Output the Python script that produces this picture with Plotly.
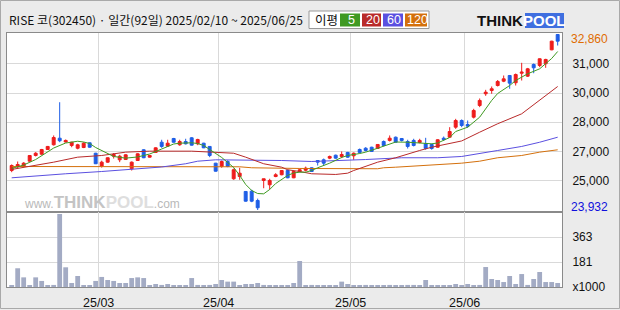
import plotly.graph_objects as go

# ---------------- data ----------------
title_text = "RISE 코(302450) · 일간(92일) 2025/02/10 ~ 2025/06/25"

open_ = [25940, 26130, 26160, 26415, 26705, 26770, 27010, 27250, 27585, 27390,
         27215, 27075, 27110, 27350, 26820, 26160, 26365, 26670, 26485, 26500,
         26030, 26450, 26995, 26620, 26860, 27380, 27180, 27570, 27250, 27415,
         27605, 27300, 27330, 27165, 26315, 26145, 26400, 25520, 25635, 24875,
         24890, 24415, 25435, 25215, 25635, 25725, 25940, 25570, 25890, 25955,
         26080, 26450, 26485, 26570, 26720, 26655, 26860, 26690, 27010, 27075,
         27125, 27060, 27415, 27470, 27635, 27570, 27415, 27470, 27365, 27300,
         27265, 27125, 27585, 27635, 28145, 28485, 28280, 28655, 29250, 29845,
         30010, 30265, 30485, 30775, 30405, 30890, 30740, 31335, 31285, 31370,
         32080, 32860]
high = [26250, 26400, 26365, 26730, 26875, 27040, 27190, 27725, 29415, 27520,
        27400, 27300, 27380, 27370, 26840, 26440, 26610, 26830, 26740, 26770,
        26400, 26820, 27020, 26730, 27120, 27505, 27505, 27600, 27505, 27555,
        27640, 27555, 27350, 27180, 26330, 26450, 26460, 26040, 26080, 24890,
        24960, 24510, 25520, 25520, 25805, 25960, 25990, 25920, 26040, 26140,
        26100, 26460, 26550, 26700, 26750, 26910, 26890, 26860, 27060, 27130,
        27150, 27280, 27470, 27725, 27670, 27590, 27505, 27555, 27555, 27605,
        27310, 27530, 27670, 28145, 28570, 28540, 28485, 29080, 29605, 30045,
        30215, 30545, 30775, 30800, 30875, 31420, 31160, 31385, 31640, 31625,
        32540, 32860]
low = [25855, 26060, 26110, 26400, 26655, 26750, 26990, 27210, 27380, 27370,
       27125, 27020, 27080, 27100, 26270, 26090, 26340, 26550, 26365, 26480,
       25940, 26430, 26570, 26600, 26840, 27095, 27165, 27360, 27200, 27265,
       27210, 27230, 27080, 26620, 25890, 26080, 26110, 25470, 25470, 24360,
       24330, 23932, 25040, 24975, 25600, 25700, 25550, 25550, 25840, 25890,
       25870, 26195, 26195, 26520, 26540, 26570, 26590, 26485, 26810, 26910,
       26890, 27040, 27165, 27415, 27360, 27415, 27060, 27165, 27330, 27000,
       27000, 27110, 27450, 27620, 28060, 28145, 28110, 28590, 29165, 29740,
       29845, 30215, 30435, 30100, 30265, 30520, 30700, 30890, 31200, 31165,
       32060, 32300]
close = [26195, 26245, 26315, 26705, 26820, 27010, 27165, 27620, 27455, 27470,
         27380, 27250, 27330, 27125, 26285, 26365, 26590, 26755, 26670, 26740,
         26365, 26790, 26590, 26705, 27095, 27165, 27330, 27380, 27415, 27300,
         27230, 27520, 27095, 26705, 25905, 26400, 26145, 25980, 25805, 24380,
         24380, 24045, 25520, 25435, 25725, 25940, 25570, 25890, 25980, 26060,
         25890, 26365, 26315, 26655, 26570, 26755, 26620, 26820, 26860, 26960,
         26910, 27265, 27215, 27585, 27380, 27470, 27165, 27215, 27470, 27060,
         27060, 27505, 27520, 27925, 28485, 28230, 28195, 28995, 29505, 29925,
         30100, 30470, 30605, 30385, 30825, 30945, 31115, 31165, 31625, 31590,
         32520, 32520]
volume = [8, 136, 70, 8, 70, 44, 8, 15, 530, 143,
          29, 80, 8, 8, 44, 73, 51, 44, 29, 29,
          65, 70, 65, 8, 22, 15, 22, 8, 8, 8,
          65, 15, 8, 15, 22, 51, 39, 39, 8, 22,
          22, 29, 15, 8, 8, 8, 8, 29, 189, 8,
          15, 8, 8, 8, 8, 39, 22, 8, 8, 15,
          8, 8, 8, 15, 8, 8, 15, 15, 8, 51,
          8, 8, 8, 8, 22, 8, 22, 8, 15, 145,
          58, 51, 36, 80, 22, 94, 15, 58, 109, 36,
          36, 29]

ma5_idx = [0, 2, 4, 5, 7, 9, 11, 12, 13, 14, 16, 17, 19, 21, 22, 23, 25, 27, 28, 30,
           31, 32, 33, 35, 36, 37, 38, 39, 40, 41, 42, 43, 44, 45, 46, 47, 48, 49, 50, 51,
           53, 55, 56, 58, 59, 61, 63, 64, 66, 68, 70, 71, 72, 73, 74, 76, 78, 79, 80, 81,
           83, 84, 86, 88, 89, 90, 91]
ma5_val = [26045, 26220, 26500, 26705, 27085, 27340, 27430, 27390, 27315, 27110,
           26805, 26655, 26570, 26630, 26705, 26780, 27035, 27290, 27330, 27350,
           27315, 27215, 27010, 26605, 26350, 26095, 25690, 25230, 24925, 24770,
           24755, 24975, 25280, 25485, 25690, 25815, 25855, 25855, 25940, 26080,
           26315, 26605, 26705, 26805, 26875, 27075, 27300, 27390, 27380, 27330,
           27300, 27340, 27495, 27620, 27925, 28145, 28655, 29095, 29505, 29860,
           30265, 30520, 30860, 31115, 31385, 31640, 31995]
ma20_idx = [0, 3, 7, 11, 15, 19, 23, 30, 34, 37, 39, 41, 42, 45, 46, 48, 50, 54, 56, 57,
            59, 61, 64, 66, 68, 70, 72, 75, 78, 81, 85, 88, 91]
ma20_val = [25995, 26145, 26365, 26620, 26705, 26875, 26925, 26925, 26875, 26820,
            26620, 26400, 26285, 26110, 25980, 25890, 25775, 25740, 25805, 25940,
            26145, 26365, 26590, 26790, 26960, 27125, 27265, 27445, 27890, 28320,
            28825, 29505, 30215]
ma60_idx = [0, 5, 9, 15, 20, 25, 29, 31, 34, 40, 45, 50, 55, 59, 65, 71, 75, 78, 81, 85, 88, 91]
ma60_val = [25570, 25690, 25775, 25890, 25995, 26120, 26285, 26415, 26485, 26485, 26450,
            26400, 26450, 26500, 26590, 26590, 26655, 26790, 26960, 27165, 27380, 27635]
ma120_idx = [0, 38, 40, 48, 61, 62, 64, 67, 71, 75, 78, 81, 85, 88, 91]
ma120_val = [26145, 26130, 26080, 26045, 26030, 26080, 26110, 26160, 26230, 26315,
             26415, 26590, 26705, 26875, 26995]

price_max, price_min = 32860, 23932
price_grid_labels = ["25,000", "27,000", "28,000", "30,000", "31,000"]
vol_unit = 181.5
vol_labels = ["x1000", "181", "363"]
month_labels = ["25/03", "25/04", "25/05", "25/06"]
month_first_idx = [15, 35, 57, 76]
ma_labels = ["5", "20", "60", "120"]

# ---------------- styling ----------------
RED = "#ee1c1c"
BLUE = "#1e5ee6"
C_MA5, C_MA20, C_MA60, C_MA120 = "#3f9a22", "#b92a2a", "#5b50e0", "#d4700c"
GRID = "#d9d9d9"
FRAME = "#8a8a8a"
BG = "#ebebeb"
FONT = "Liberation Sans"
KFONT = "Noto Sans CJK KR"

W, H = 620, 310
L, R, T, B = 7, 58, 33, 23
PW, PH = W - L - R, H - T - B
SEP = 212
vol_frac = (T + PH - SEP) / PH


def pxx(x):
    return (x - L) / PW


def pxy(y):
    return (T + PH - y) / PH


n = len(close)
idx = list(range(n))
step = (price_max - price_min) / 6
grid_vals = [price_min + step * k for k in range(1, 6)]

fig = go.Figure()

for xi, yv, col in [(ma120_idx, ma120_val, C_MA120), (ma60_idx, ma60_val, C_MA60),
                    (ma20_idx, ma20_val, C_MA20), (ma5_idx, ma5_val, C_MA5)]:
    fig.add_trace(go.Scatter(x=xi, y=yv, mode="lines", line=dict(color=col, width=1),
                             xaxis="x", yaxis="y", hoverinfo="skip"))

fig.add_trace(go.Candlestick(
    x=idx, open=open_, high=high, low=low, close=close,
    increasing=dict(line=dict(color=RED, width=1), fillcolor=RED),
    decreasing=dict(line=dict(color=BLUE, width=1), fillcolor=BLUE),
    whiskerwidth=0, xaxis="x", yaxis="y", hoverinfo="skip"))

fig.add_trace(go.Bar(x=idx, y=volume, marker=dict(color="#a3abc4", line=dict(width=0)),
                     width=0.8, xaxis="x", yaxis="y2", hoverinfo="skip"))

fig.update_layout(
    width=W, height=H, margin=dict(l=L, r=R, t=T, b=B, autoexpand=False),
    paper_bgcolor=BG, plot_bgcolor="white", showlegend=False,
    font=dict(family=FONT, size=12, color="#111"),
    xaxis=dict(domain=[0, 1], anchor="y2", range=[-0.78, 91.72],
               tickvals=[i - 0.5 for i in month_first_idx], ticktext=month_labels,
               showgrid=True, gridcolor=GRID, gridwidth=1, zeroline=False,
               showline=True, linecolor=FRAME, linewidth=1, mirror="all",
               ticks="", ticklabelstandoff=4, automargin=False,
               tickfont=dict(size=12.5, family=FONT, color="#111"),
               rangeslider=dict(visible=False), fixedrange=True),
    yaxis=dict(domain=[vol_frac, 1], anchor="x", side="right", automargin=False,
               range=[price_max - (SEP - 34.5) * (price_max - price_min) / 175.5,
                      price_max + 1.5 * (price_max - price_min) / 175.5],
               tickvals=grid_vals, ticktext=price_grid_labels,
               showgrid=True, gridcolor=GRID, zeroline=False,
               showline=True, linecolor=FRAME, mirror=True, ticks="",
               ticklabelstandoff=7, tickfont=dict(size=12, family=FONT, color="#111")),
    yaxis2=dict(domain=[0, vol_frac], anchor="x", side="right", automargin=False,
                range=[0, vol_unit * 3],
                tickvals=[0, vol_unit, vol_unit * 2], ticktext=vol_labels,
                showgrid=True, gridcolor=GRID, zeroline=False,
                showline=True, linecolor=FRAME, mirror=True, ticks="",
                ticklabelstandoff=7, tickfont=dict(size=12, family=FONT, color="#111")),
)

shapes = []
annots = []

# max / min labels
annots.append(dict(xref="paper", yref="y", x=1, y=price_max, xanchor="left", yanchor="middle",
                   xshift=7, yshift=-4, text=f"{price_max:,}", showarrow=False,
                   font=dict(family=FONT, size=12, color="#e06c00")))
annots.append(dict(xref="paper", yref="y", x=1, y=price_min, xanchor="left", yanchor="middle",
                   xshift=7, yshift=3, text=f"{price_min:,}", showarrow=False,
                   font=dict(family=FONT, size=12, color="#1010dd")))

# title
annots.append(dict(xref="paper", yref="paper", x=pxx(7), y=pxy(19.5), xanchor="left",
                   yanchor="middle", text=title_text, showarrow=False,
                   font=dict(family=KFONT, size=12, color="#111")))

# MA legend box
shapes.append(dict(type="rect", xref="paper", yref="paper", x0=pxx(309), x1=pxx(429),
                   y0=pxy(28.5), y1=pxy(11), fillcolor="white", line=dict(color="#999", width=1)))
annots.append(dict(xref="paper", yref="paper", x=pxx(326), y=pxy(19.5), xanchor="center",
                   yanchor="middle", text="이평", showarrow=False,
                   font=dict(family=KFONT, size=12.5, color="#111")))
for lab, col, (a, b) in zip(ma_labels, [C_MA5, C_MA20, C_MA60, C_MA120],
                            [(340, 360), (362, 381), (383, 403), (405, 427)]):
    shapes.append(dict(type="rect", xref="paper", yref="paper", x0=pxx(a), x1=pxx(b),
                       y0=pxy(26.5), y1=pxy(13.5), fillcolor=col, line=dict(width=0)))
    annots.append(dict(xref="paper", yref="paper", x=pxx((a + b) / 2 + 1), y=pxy(20),
                       xanchor="center", yanchor="middle", text=lab, showarrow=False,
                       font=dict(family=FONT, size=12.5, color="white")))

# logo
annots.append(dict(xref="paper", yref="paper", x=pxx(525), y=pxy(20.5), xanchor="right",
                   yanchor="middle", text="<b>THINK</b>", showarrow=False,
                   font=dict(family=FONT, size=15, color="#111")))
shapes.append(dict(type="rect", xref="paper", yref="paper", x0=pxx(525), x1=pxx(564),
                   y0=pxy(28), y1=pxy(13), fillcolor="#3f6fe0", line=dict(width=0)))
annots.append(dict(xref="paper", yref="paper", x=pxx(544.5), y=pxy(20.5), xanchor="center",
                   yanchor="middle", text="<b>POOL</b>", showarrow=False,
                   font=dict(family=FONT, size=15, color="white")))

# watermark
annots.append(dict(xref="paper", yref="paper", x=pxx(22), y=pxy(203), xanchor="left",
                   yanchor="middle", showarrow=False,
                   text=("<span style='font-size:12px;color:#b9b9b9'>www.</span>"
                         "<b><span style='color:#c4c4c4'>THINK</span>"
                         "<span style='color:#dedede'>POOL</span></b>"
                         "<span style='font-size:12px;color:#b9b9b9'>.com</span>"),
                   font=dict(family=FONT, size=17, color="#c4c4c4")))

# outer frame
shapes.append(dict(type="rect", xref="paper", yref="paper", x0=pxx(0.5), x1=pxx(619.5),
                   y0=pxy(308.5), y1=pxy(0.5), line=dict(color="#a9a9a9", width=1),
                   fillcolor="rgba(0,0,0,0)", layer="below"))

fig.update_layout(shapes=shapes, annotations=annots)
fig.write_html("out.html")
